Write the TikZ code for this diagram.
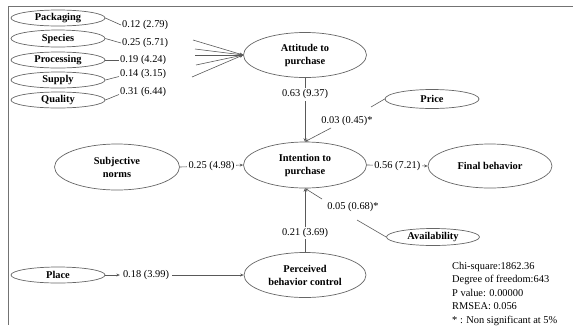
\documentclass[tikz,border=0pt]{standalone}
\usepackage{fontspec}
\setmainfont{Liberation Serif}
\usetikzlibrary{shapes.geometric,arrows.meta}
\begin{document}
\fontsize{10.4}{13}\selectfont
\begin{tikzpicture}[x=1pt,y=-1pt,
  ell/.style={draw=black!60, line width=0.7pt, ellipse, inner sep=0pt, font=\bfseries, align=center},
  smallell/.style={ell, minimum width=94pt, minimum height=16pt},
  bigell/.style={ell, minimum width=123pt, minimum height=45pt},
  lbl/.style={fill=white, inner sep=1.5pt},
  plain/.style={inner sep=1pt},
  conn/.style={draw=black!65, line width=0.6pt},
  arr/.style={conn, -{Stealth[length=3.5pt,width=3pt]}},
]
\useasboundingbox (0,0) rectangle (573,325);
\draw[black!55, line width=1pt] (573,6.5) -- (8.5,6.5) -- (8.5,325);

% left factors
\node[smallell] (pack) at (58,18) {Packaging};
\node[smallell, minimum height=17pt] (spec) at (58,38.5) {Species};
\node[smallell] (proc) at (58,60) {Processing};
\node[smallell] (supp) at (58,80) {Supply};
\node[smallell] (qual) at (58,100) {Quality};

\node[plain, anchor=west] (lpack) at (121,25) {0.12 (2.79)};
\node[plain, anchor=west] (lspec) at (121,43) {0.25 (5.71)};
\node[plain, anchor=west] (lproc) at (119,60) {0.19 (4.24)};
\node[plain, anchor=west] (lsupp) at (119,74) {0.14 (3.15)};
\node[plain, anchor=west] (lqual) at (119,92) {0.31 (6.44)};

\draw[conn] (pack.east) -- (lpack.west);
\draw[conn] (spec.east) -- (lspec.west);
\draw[conn] (proc.east) -- (lproc.west);
\draw[conn] (supp.east) -- (lsupp.base west);
\draw[conn] (qual.east) -- (lqual.base west);

% main constructs
\node[bigell] (att) at (305,55) {Attitude to\\purchase};
\node[bigell, minimum height=46pt] (int) at (305,165) {Intention to\\purchase};
\node[bigell, minimum width=125pt, minimum height=46pt] (subj) at (117,167) {Subjective\\norms};
\node[bigell, minimum width=124pt, minimum height=44pt] (fin) at (490,166) {Final behavior};
\node[bigell, minimum width=122pt] (perc) at (305,275) {Perceived\\behavior control};
\node[smallell, minimum height=19pt] (price) at (432,99) {Price};
\node[smallell, minimum width=93pt, minimum height=17pt] (avail) at (433,237) {Availability};
\node[smallell] (place) at (58,275) {Place};

% converging lines to attitude
\coordinate (s1) at (193,40);
\coordinate (s2) at (195,49);
\coordinate (s3) at (195,55);
\coordinate (s4) at (196,65);
\coordinate (s5) at (192,77);
\foreach \s in {s1,s2,s3,s4,s5} \draw[arr] (\s) -- (att.west);

% attitude -> intention
\draw[arr] (att.south) -- node[lbl, pos=0.26] (latt) {0.63 (9.37)} (int.north);

% price -> intention
\coordinate (pr1) at (371,107);
\coordinate (pr2) at (331,128);
\node[plain] (lprice) at (347,121) {0.03 (0.45)*};
\draw[conn] (price.west) -- (pr1);
\draw[arr] (pr2) -- (int.north);

% availability -> intention
\coordinate (av1) at (322,199);
\coordinate (av2) at (357,220);
\node[plain] (lavail) at (353,207) {0.05 (0.68)*};
\draw[arr] (av1) -- (int.south);
\draw[conn] (av2) -- (avail.west);

% perceived -> intention
\draw[arr] (perc.north) -- node[lbl, pos=0.30] (lperc) {0.21 (3.69)} (int.south);

% subjective -> intention
\draw[arr] (subj.east) -- node[lbl] (lsubj) {0.25 (4.98)} (int.west);

% intention -> final
\draw[arr] (int.east) -- node[lbl] (lfin) {0.56 (7.21)} (fin.west);

% place -> perceived
\node[inner sep=3pt] (lplace) at (146,275) {0.18 (3.99)};
\draw[arr] (place.east) -- (lplace.west);
\draw[arr] (lplace.east) -- (perc.west);

% statistics
\node[anchor=north west, align=left, inner sep=0pt, font=\fontsize{10.4}{13.5}\selectfont] (stats) at (452,262)
  {Chi-square:1862.36\\Degree of freedom:643\\P value: 0.00000\\RMSEA: 0.056\\* : Non significant at 5\%};
\end{tikzpicture}
\end{document}
